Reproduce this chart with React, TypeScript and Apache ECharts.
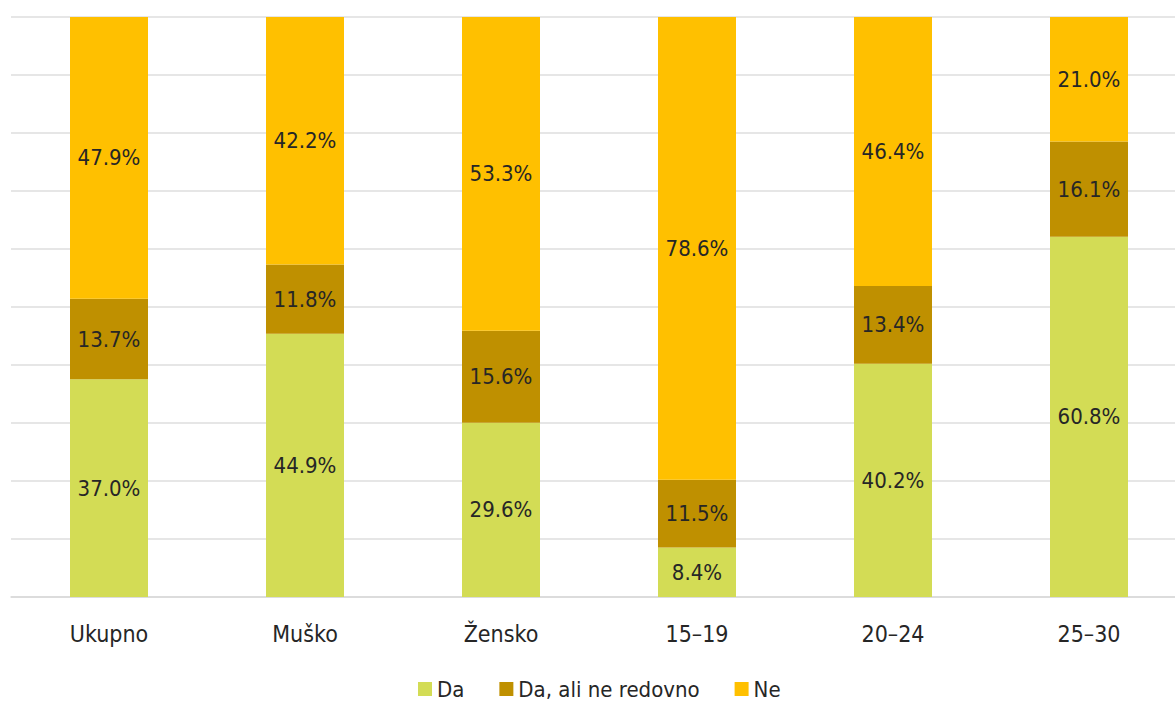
import React, { useEffect, useRef } from "react";
import * as echarts from "echarts";

const categories = ["Ukupno", "Muško", "Žensko", "15–19", "20–24", "25–30"];
const seriesNames = ["Da", "Da, ali ne redovno", "Ne"];
const da = [37.0, 44.9, 29.6, 8.4, 40.2, 60.8];
const daAliNe = [13.7, 11.8, 15.6, 11.5, 13.4, 16.1];
const ne = [47.9, 42.2, 53.3, 78.6, 46.4, 21.0];
const colors = ["#D3DC55", "#BF9000", "#FFC000"];

const FONT = "'DejaVu Sans Condensed', sans-serif";

export default function App() {
  const ref = useRef<HTMLDivElement>(null);
  useEffect(() => {
    if (!ref.current) return;
    const chart = echarts.init(ref.current, undefined, { renderer: "svg" });
    const raw = [da, daAliNe, ne];
    const totals = categories.map((_, i) => raw.reduce((s, arr) => s + arr[i], 0));
    chart.setOption({
      animation: false,
      textStyle: { fontFamily: FONT },
      grid: { left: 11, top: 17, right: 0, bottom: 105, containLabel: false },
      legend: {
        top: 673,
        left: 413,
        itemWidth: 14,
        itemHeight: 14,
        itemGap: 35,
        icon: "rect",
        textStyle: { fontSize: 22, color: "#262626", fontFamily: FONT },
        data: seriesNames,
      },
      xAxis: {
        type: "category",
        data: categories,
        axisLine: { lineStyle: { color: "#d9d9d9", width: 1.5 } },
        axisTick: { show: false },
        axisLabel: { fontSize: 23, color: "#262626", margin: 25, fontFamily: FONT },
      },
      yAxis: {
        type: "value",
        min: 0,
        max: 100,
        interval: 10,
        axisLabel: { show: false },
        axisLine: { show: false },
        axisTick: { show: false },
        splitLine: { lineStyle: { color: "#dedede", width: 1.5 } },
      },
      series: raw.map((arr, si) => ({
        name: seriesNames[si],
        type: "bar",
        stack: "total",
        barWidth: 78,
        itemStyle: { color: colors[si] },
        data: arr.map((v, i) => (v / totals[i]) * 100),
        label: {
          show: true,
          position: "inside",
          fontSize: 22,
          color: "#262626",
          fontFamily: FONT,
          formatter: (p: any) => arr[p.dataIndex].toFixed(1) + "%",
        },
      })),
    });
    return () => chart.dispose();
  }, []);
  return (
    <div style={{ position: "absolute", left: 0, top: 0, width: 1175, height: 702, overflow: "hidden" }}>
      <div ref={ref} style={{ width: 1187, height: 702 }} />
    </div>
  );
}
